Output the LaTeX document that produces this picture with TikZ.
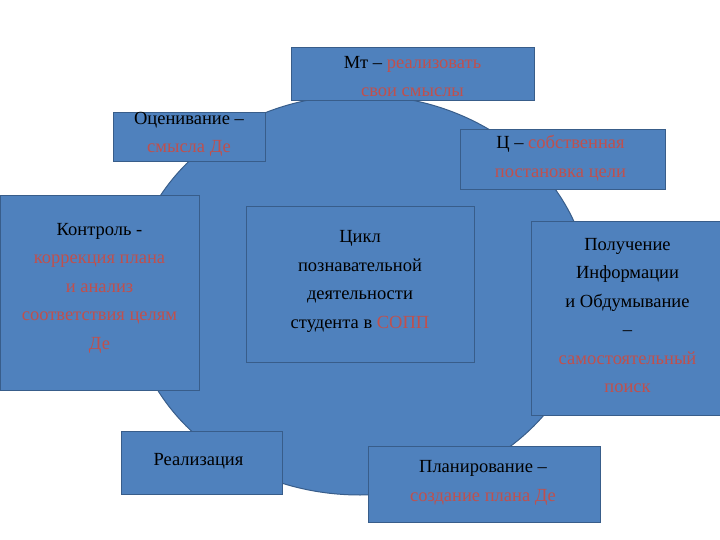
\documentclass[tikz,border=0pt]{standalone}
\usepackage{fontspec}
\usetikzlibrary{shapes.geometric}
\setmainfont{Liberation Serif}
\begin{document}
\begin{tikzpicture}[x=1pt,y=-1pt,
  box/.style={draw=bordc,fill=fillc,line width=1pt,inner sep=0pt},
  txt/.style={align=center,font=\fontsize{18.5}{28.5}\selectfont,inner sep=0pt}]
\definecolor{fillc}{HTML}{4F81BD}
\definecolor{bordc}{HTML}{385D8A}
\definecolor{redc}{HTML}{C0504D}
\useasboundingbox (0,0) rectangle (720,540);
\node[box,ellipse,minimum width=460pt,minimum height=400pt] (circ) at (360,295) {};
\newcommand{\bx}[5]{\node[box,minimum width=#3pt,minimum height=#4pt] (#1) at (#2) {};}
\bx{mt}{412.5,74.5}{243}{53}{}
\bx{oc}{189,137.5}{152}{49}{}
\bx{ts}{562.5,160}{205}{60}{}
\bx{ko}{99.5,293}{199}{194}{}
\bx{ce}{360,284.5}{228}{155}{}
\bx{po}{625.5,318.5}{189}{193}{}
\bx{re}{201.5,462.5}{161}{63}{}
\bx{pl}{484,484}{232}{76}{}
\node[txt] (tmt) at ([yshift=-2pt]mt.center) {Мт – \textcolor{redc}{реализовать}\\\textcolor{redc}{свои смыслы}};
\node[txt] (toc) at ([yshift=3pt]oc.center) {Оценивание –\\\textcolor{redc}{смысла Де}};
\node[txt] (tts) at ([xshift=-2pt,yshift=2pt]ts.center) {Ц – \textcolor{redc}{собственная}\\\textcolor{redc}{постановка цели}};
\node[txt] (tko) at ([xshift=0pt,yshift=5pt]ko.center) {Контроль -\\\textcolor{redc}{коррекция плана}\\\textcolor{redc}{и анализ}\\\textcolor{redc}{соответствия целям}\\\textcolor{redc}{Де}};
\node[txt] (tce) at ([yshift=3pt]ce.center) {Цикл\\познавательной\\деятельности\\студента в \textcolor{redc}{СОПП}};
\node[txt] (tpo) at ([xshift=2pt,yshift=3pt]po.center) {Получение\\Информации\\и Обдумывание\\–\\\textcolor{redc}{самостоятельный}\\\textcolor{redc}{поиск}};
\node[txt] (tre) at ([xshift=-3pt,yshift=1pt]re.center) {Реализация};
\node[txt] (tpl) at ([xshift=-1pt,yshift=1pt]pl.center) {Планирование –\\\textcolor{redc}{создание плана Де}};
\end{tikzpicture}
\end{document}
